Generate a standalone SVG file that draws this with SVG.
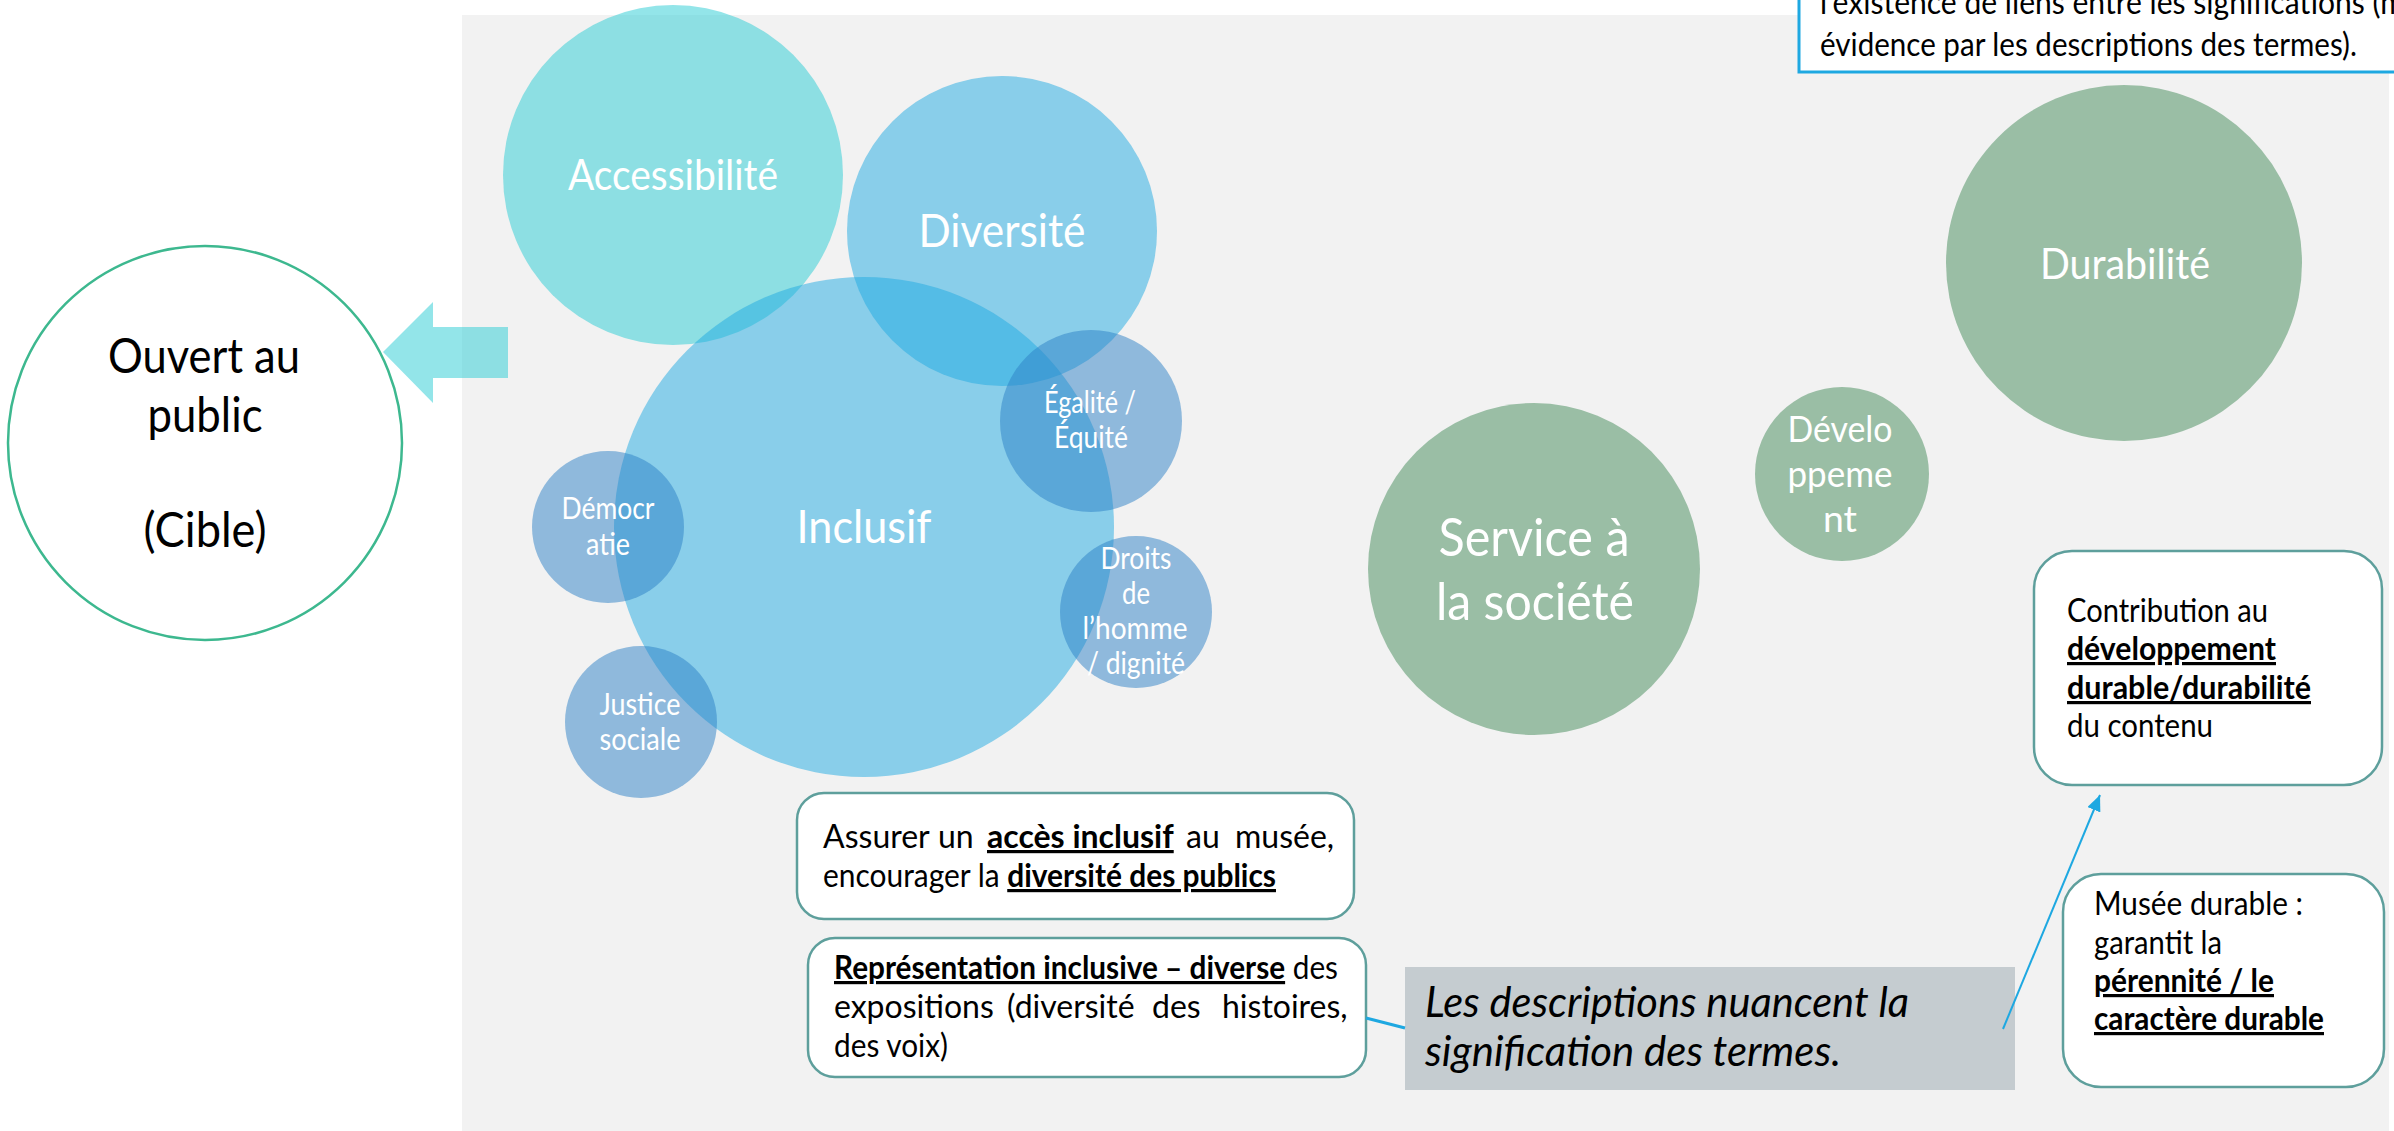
<svg xmlns="http://www.w3.org/2000/svg" width="2394" height="1131" viewBox="0 0 2394 1131">
  <style>
    text { font-family: Lato, "Open Sans", "Liberation Sans", sans-serif; }
    .w { fill: #ffffff; text-anchor: middle; }
    .k { fill: #000000; }
    .b { font-weight: bold; }
    .u { text-decoration: underline; }
    .i { font-style: italic; }
    .box { fill: #ffffff; stroke: #5E9F9C; stroke-width: 2.5; }
    .cyan { fill: #28CCD4; fill-opacity: 0.5; }
    .blue { fill: #20AAE2; fill-opacity: 0.5; }
    .navy { fill: #2C80C6; fill-opacity: 0.5; }
    .green { fill: #9ABEA5; }
    .con { stroke: #1EA8E1; fill: none; }
  </style>
  <defs>
    <marker id="pointe" markerUnits="userSpaceOnUse" markerWidth="16" markerHeight="14" refX="16" refY="7" orient="auto">
      <path d="M0,0 L16,7 L0,14 z" fill="#1EA8E1"/>
    </marker>
  </defs>

  <!-- background panel -->
  <rect x="462" y="15" width="1927" height="1116" fill="#F2F2F2"/>

  <!-- target circle -->
  <g id="ouvert">
    <circle cx="205" cy="443" r="197" fill="#ffffff" stroke="#3DB88F" stroke-width="2.5"/>
    <text class="k" x="204" y="373" font-size="48" text-anchor="middle" textLength="192" lengthAdjust="spacingAndGlyphs">Ouvert au</text>
    <text class="k" x="205" y="432" font-size="48" text-anchor="middle" textLength="115" lengthAdjust="spacingAndGlyphs">public</text>
    <text class="k" x="205" y="547" font-size="48" text-anchor="middle" textLength="123" lengthAdjust="spacingAndGlyphs">(Cible)</text>
  </g>

  <!-- block arrow pointing at the target -->
  <g id="fleche">
    <polygon class="cyan" points="383,352 433,302 433,327 508,327 508,378 433,378 433,403"/>
  </g>

  <!-- blue family of terms -->
  <g id="accessibilite">
    <circle class="cyan" cx="673" cy="175" r="170"/>
    <text class="w" x="673" y="190" font-size="42" textLength="210" lengthAdjust="spacingAndGlyphs">Accessibilité</text>
  </g>
  <g id="diversite">
    <circle class="blue" cx="1002" cy="231" r="155"/>
    <text class="w" x="1002" y="247" font-size="47" textLength="167" lengthAdjust="spacingAndGlyphs">Diversité</text>
  </g>
  <g id="inclusif">
    <circle class="blue" cx="864" cy="527" r="250"/>
    <text class="w" x="864" y="543" font-size="47" textLength="135" lengthAdjust="spacingAndGlyphs">Inclusif</text>
  </g>
  <g id="egalite">
    <circle class="navy" cx="1091" cy="421" r="91"/>
    <text class="w" x="1090" y="413" font-size="30" textLength="92" lengthAdjust="spacingAndGlyphs">Égalité /</text>
    <text class="w" x="1091" y="448" font-size="30" textLength="74" lengthAdjust="spacingAndGlyphs">Équité</text>
  </g>
  <g id="democratie">
    <circle class="navy" cx="608" cy="527" r="76"/>
    <text class="w" x="608" y="519" font-size="30" textLength="93" lengthAdjust="spacingAndGlyphs">Démocr</text>
    <text class="w" x="608" y="555" font-size="30" textLength="44" lengthAdjust="spacingAndGlyphs">atie</text>
  </g>
  <g id="justice">
    <circle class="navy" cx="641" cy="722" r="76"/>
    <text class="w" x="640" y="715" font-size="30" textLength="81" lengthAdjust="spacingAndGlyphs">Justice</text>
    <text class="w" x="640" y="750" font-size="30" textLength="81" lengthAdjust="spacingAndGlyphs">sociale</text>
  </g>
  <g id="droits">
    <circle class="navy" cx="1136" cy="612" r="76"/>
    <text class="w" x="1136" y="569" font-size="30" textLength="71" lengthAdjust="spacingAndGlyphs">Droits</text>
    <text class="w" x="1136" y="604" font-size="30" textLength="28" lengthAdjust="spacingAndGlyphs">de</text>
    <text class="w" x="1135" y="639" font-size="30" textLength="105" lengthAdjust="spacingAndGlyphs">l’homme</text>
    <text class="w" x="1136" y="674" font-size="30" textLength="98" lengthAdjust="spacingAndGlyphs">/ dignité</text>
  </g>

  <!-- green family of terms -->
  <g id="service">
    <circle class="green" cx="1534" cy="569" r="166"/>
    <text class="w" x="1534" y="556" font-size="53" textLength="191" lengthAdjust="spacingAndGlyphs">Service à</text>
    <text class="w" x="1535" y="620" font-size="53" textLength="198" lengthAdjust="spacingAndGlyphs">la société</text>
  </g>
  <g id="developpement">
    <circle class="green" cx="1842" cy="474" r="87"/>
    <text class="w" x="1840" y="442" font-size="37" textLength="105" lengthAdjust="spacingAndGlyphs">Dévelo</text>
    <text class="w" x="1840" y="487" font-size="37" textLength="105" lengthAdjust="spacingAndGlyphs">ppeme</text>
    <text class="w" x="1840" y="532" font-size="37" textLength="34" lengthAdjust="spacingAndGlyphs">nt</text>
  </g>
  <g id="durabilite">
    <circle class="green" cx="2124" cy="263" r="178"/>
    <text class="w" x="2125" y="279" font-size="42" textLength="170" lengthAdjust="spacingAndGlyphs">Durabilité</text>
  </g>

  <!-- description boxes -->
  <g id="acces">
    <rect class="box" x="797" y="793" width="557" height="126" rx="27"/>
    <text class="k" font-size="32" y="848">
      <tspan x="823">Assurer</tspan>
      <tspan x="938">un</tspan>
      <tspan x="987" class="b u">accès inclusif</tspan>
      <tspan x="1186">au</tspan>
      <tspan x="1235">musée,</tspan>
    </text>
    <text class="k" font-size="32" x="823" y="887" textLength="453" lengthAdjust="spacingAndGlyphs">encourager la <tspan class="b u">diversité des publics</tspan></text>
  </g>
  <g id="representation">
    <rect class="box" x="808" y="938" width="558" height="139" rx="27"/>
    <text class="k" font-size="32" x="834" y="979" textLength="504" lengthAdjust="spacingAndGlyphs"><tspan class="b u">Représentation inclusive – diverse</tspan> des</text>
    <text class="k" font-size="32" y="1018">
      <tspan x="834">expositions</tspan>
      <tspan x="1007">(diversité</tspan>
      <tspan x="1152">des</tspan>
      <tspan x="1222">histoires,</tspan>
    </text>
    <text class="k" font-size="32" x="834" y="1057" textLength="114" lengthAdjust="spacingAndGlyphs">des voix)</text>
  </g>
  <g id="nuance">
    <rect x="1405" y="967" width="610" height="123" fill="#C5CCD0"/>
    <text class="k i" font-size="42" x="1425" y="1017" textLength="484" lengthAdjust="spacingAndGlyphs">Les descriptions nuancent la</text>
    <text class="k i" font-size="42" x="1425" y="1066" textLength="416" lengthAdjust="spacingAndGlyphs">signification des termes.</text>
  </g>
  <g id="contribution">
    <rect class="box" x="2034" y="551" width="348" height="234" rx="38"/>
    <text class="k" font-size="32" x="2067" y="622" textLength="201" lengthAdjust="spacingAndGlyphs">Contribution au</text>
    <text class="k b u" font-size="32" x="2067" y="660" textLength="209" lengthAdjust="spacingAndGlyphs">développement</text>
    <text class="k b u" font-size="32" x="2067" y="699" textLength="244" lengthAdjust="spacingAndGlyphs">durable/durabilité</text>
    <text class="k" font-size="32" x="2067" y="737" textLength="146" lengthAdjust="spacingAndGlyphs">du contenu</text>
  </g>
  <g id="musee">
    <rect class="box" x="2063" y="874" width="321" height="213" rx="38"/>
    <text class="k" font-size="32" x="2094" y="915" textLength="209" lengthAdjust="spacingAndGlyphs">Musée durable :</text>
    <text class="k" font-size="32" x="2094" y="954" textLength="128" lengthAdjust="spacingAndGlyphs">garantit la</text>
    <text class="k b u" font-size="32" x="2094" y="992" textLength="180" lengthAdjust="spacingAndGlyphs">pérennité / le</text>
    <text class="k b u" font-size="32" x="2094" y="1030" textLength="230" lengthAdjust="spacingAndGlyphs">caractère durable</text>
  </g>
  <g id="liens">
    <rect x="1799" y="-40" width="640" height="112" fill="#ffffff" stroke="#1EA8E1" stroke-width="3"/>
    <text class="k" font-size="32" x="1820" y="14" textLength="585" lengthAdjust="spacingAndGlyphs">l’existence de liens entre les significations (m</text>
    <text class="k" font-size="32" x="1820" y="56" textLength="537" lengthAdjust="spacingAndGlyphs">évidence par les descriptions des termes).</text>
  </g>

  <!-- connectors -->
  <g id="connecteurs">
    <line class="con" x1="1366" y1="1018" x2="1405" y2="1028" stroke-width="3"/>
    <line class="con" x1="2003" y1="1029" x2="2100" y2="795" stroke-width="2" marker-end="url(#pointe)"/>
  </g>
</svg>
